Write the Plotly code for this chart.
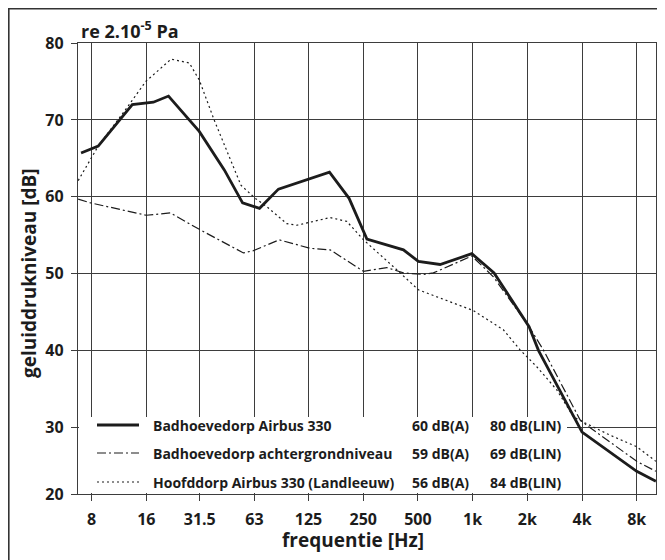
import math
import plotly.graph_objects as go

# ---------------- data ----------------
# Badhoevedorp Airbus 330 (solid)
solid_freq = [7.0, 8.7, 13.4, 17.5, 21.2, 31.3, 43.0, 54.2, 67.2, 85.4, 163, 209, 262,
              416, 503, 662, 990, 1312, 2045, 2306, 4001, 8000, 10200]
solid_db = [65.7, 66.6, 72.0, 72.3, 73.1, 68.5, 63.5, 59.2, 58.5, 61.0, 63.2, 59.8, 54.5,
            53.1, 51.6, 51.2, 52.6, 50.1, 43.1, 40.0, 29.4, 24.3, 23.0]

# Badhoevedorp achtergrondniveau (dash-dot)
bg_freq = [6.75, 7.92, 16.0, 21.7, 31.7, 54.8, 62.2, 86.2, 127.7, 164.4, 251, 337, 416,
           536, 608, 990, 1301, 2045, 2450, 3900, 4245, 8000, 10200]
bg_db = [59.7, 59.2, 57.6, 57.9, 55.7, 52.7, 53.0, 54.4, 53.3, 53.1, 50.3, 50.8, 50.1,
         49.9, 50.1, 52.3, 49.6, 43.1, 40.1, 31.0, 30.3, 25.6, 24.3]

# Hoofddorp Airbus 330 (Landleeuw) (dotted)
hd_freq = [6.75, 8.7, 12.1, 15.9, 21.9, 27.6, 31.3, 37.8, 53.1, 63.6, 73.8, 95.0, 107.9,
           164.4, 203, 251, 383, 503, 1010, 1477, 1824, 2254, 2903, 3583, 3984, 5702,
           8000, 10200]
hd_db = [62.1, 66.6, 71.1, 75.0, 77.9, 77.4, 75.2, 70.0, 61.5, 59.8, 58.7, 56.5, 56.3,
         57.3, 56.8, 54.4, 50.5, 47.9, 45.2, 42.7, 40.1, 37.9, 34.9, 31.4, 30.8, 29.0,
         27.5, 25.6]

x_tickvals = [8, 16, 31.5, 63, 125, 250, 500, 1000, 2000, 4000, 8000]
x_ticktext = ["8", "16", "31.5", "63", "125", "250", "500", "1k", "2k", "4k", "8k"]
y_bottom = 21.35
y_tickvals = [y_bottom, 30, 40, 50, 60, 70, 80]
y_ticktext = ["20", "30", "40", "50", "60", "70", "80"]

series_names = ["Badhoevedorp Airbus 330", "Badhoevedorp achtergrondniveau",
                "Hoofddorp Airbus 330 (Landleeuw)"]
series_dba = ["60 dB(A)", "59 dB(A)", "56 dB(A)"]
series_dblin = ["80 dB(LIN)", "69 dB(LIN)", "84 dB(LIN)"]

# ---------------- styling / layout ----------------
W, H = 665, 560
OFF = 8                      # page body margin offset
# plot area in page pixels
PL, PR, PT, PB = 78, 656, 43, 494
L, R, T, B = PL - OFF, PR - OFF, PT - OFF, PB - OFF
FONT = "Open Sans"
INK = "#1c1c1c"
GRID = "#3d3d3d"

styles = [dict(color=INK, width=2.8, dash="solid"),
          dict(color=INK, width=1.2, dash="9px,3px,2px,3px"),
          dict(color=INK, width=1.2, dash="2px,3px")]


def px(x):
    """page pixel x -> paper coordinate"""
    return (x - PL) / (PR - PL)


def py(y):
    """page pixel y -> paper coordinate"""
    return (PB - y) / (PB - PT)


fig = go.Figure()
for fr, db, st, nm in [(bg_freq, bg_db, styles[1], series_names[1]),
                       (hd_freq, hd_db, styles[2], series_names[2]),
                       (solid_freq, solid_db, styles[0], series_names[0])]:
    fig.add_trace(go.Scatter(x=fr, y=db, mode="lines", line=st, name=nm,
                             showlegend=False, hoverinfo="skip"))

shapes = []
# white legend panel covering gridlines
shapes.append(dict(type="rect", xref="paper", yref="paper", x0=px(PL + 1), x1=px(567),
                   y0=py(PB - 1), y1=py(417), fillcolor="white", line=dict(width=0),
                   layer="above"))
# outer frame: left and top edges (right/bottom clipped as in the reference)
shapes.append(dict(type="line", xref="paper", yref="paper", x0=px(OFF + 0.8), x1=px(OFF + 0.8),
                   y0=py(700), y1=py(OFF), line=dict(color="#333", width=1.6)))
shapes.append(dict(type="line", xref="paper", yref="paper", x0=px(OFF), x1=px(800),
                   y0=py(OFF + 0.8), y1=py(OFF + 0.8), line=dict(color="#333", width=1.6)))

annotations = []
rows_y = [425, 453, 482]
for i in range(3):
    st = styles[i]
    shapes.append(dict(type="line", xref="paper", yref="paper", x0=px(97), x1=px(139),
                       y0=py(rows_y[i]), y1=py(rows_y[i]),
                       line=dict(color=INK, width=st["width"], dash=st["dash"])))
    for xx, txt in [(151, series_names[i]), (410, series_dba[i]), (488, series_dblin[i])]:
        annotations.append(dict(xref="paper", yref="paper", x=px(xx), y=py(rows_y[i]),
                                text=txt, showarrow=False, xanchor="left",
                                yanchor="middle",
                                font=dict(family=FONT, size=14, color=INK, weight=700)))

annotations.append(dict(xref="paper", yref="paper", x=px(79), y=py(30),
                        text="re 2.10<sup>-5</sup> Pa", showarrow=False,
                        xanchor="left", yanchor="middle",
                        font=dict(family=FONT, size=18, color=INK, weight=700)))
annotations.append(dict(xref="paper", yref="paper", x=px(353), y=py(540),
                        text="frequentie [Hz]", showarrow=False,
                        xanchor="center", yanchor="middle",
                        font=dict(family=FONT, size=19, color=INK, weight=700)))
annotations.append(dict(xref="paper", yref="paper", x=px(29), y=py(273),
                        text="geluiddrukniveau [dB]", showarrow=False, textangle=-90,
                        xanchor="center", yanchor="middle",
                        font=dict(family=FONT, size=19, color=INK, weight=700)))

fig.update_layout(
    width=W, height=H,
    margin=dict(l=L, r=W - R, t=T, b=H - B, pad=0, autoexpand=False),
    paper_bgcolor="white", plot_bgcolor="white",
    shapes=shapes, annotations=annotations, showlegend=False,
    font=dict(family=FONT, color=INK),
)
fig.update_xaxes(
    type="log", range=[math.log10(6.735), math.log10(10213)],
    tickmode="array", tickvals=x_tickvals, ticktext=x_ticktext,
    showgrid=True, gridcolor=GRID, gridwidth=1.4,
    showline=True, linecolor=GRID, linewidth=1.4, mirror=True,
    ticks="outside", ticklen=6, tickwidth=1.4, tickcolor=GRID,
    tickfont=dict(family=FONT, size=16, color=INK, weight=700),
    ticklabelstandoff=5, zeroline=False, automargin=False,
)
fig.update_yaxes(
    range=[y_bottom, 80],
    tickmode="array", tickvals=y_tickvals, ticktext=y_ticktext,
    showgrid=True, gridcolor=GRID, gridwidth=1.4,
    showline=True, linecolor=GRID, linewidth=1.4, mirror=True,
    ticks="outside", ticklen=6, tickwidth=1.4, tickcolor=GRID,
    tickfont=dict(family=FONT, size=16, color=INK, weight=700),
    ticklabelstandoff=4, zeroline=False, automargin=False,
)

fig.write_html("out.html")
